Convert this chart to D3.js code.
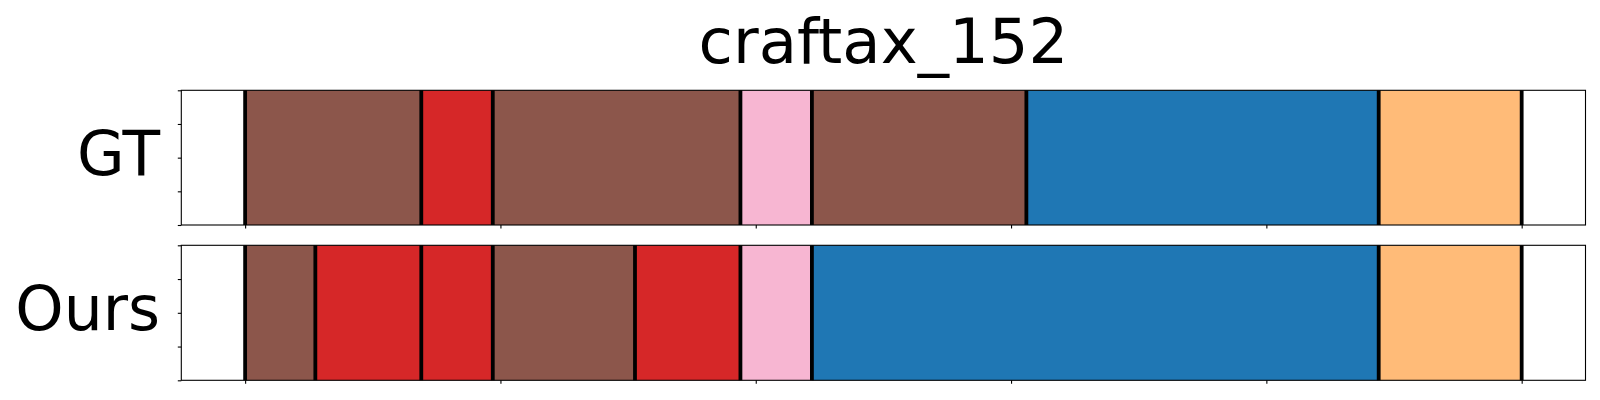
<!DOCTYPE html>
<html>
<head>
<meta charset="utf-8">
<script src="https://cdn.jsdelivr.net/npm/d3@7"></script>
<style>
  html, body { margin: 0; padding: 0; background: #fff; }
  svg { display: block; }
  text { font-family: "DejaVu Sans", sans-serif; }
</style>
</head>
<body>
<svg id="chart" width="1600" height="400"></svg>
<script>
// ---- data ----
const title = "craftax_152";
const rowNames = ["GT", "Ours"];
const classNames = ["c0", "c1", "c2", "c3", "c4"];
const classColors = ["#8c564b", "#d62728", "#f7b6d2", "#1f77b4", "#ffbb78"];
// segment boundaries (frame units) and class of each segment
const gtBounds = [0, 69, 97, 194, 222, 306, 444, 500];
const gtClasses = ["c0", "c1", "c0", "c2", "c0", "c3", "c4"];
const oursBounds = [0, 27.5, 69, 97, 152.7, 194, 222, 444, 500];
const oursClasses = ["c0", "c1", "c1", "c0", "c1", "c2", "c3", "c4"];
const xTicks = [0, 100, 200, 300, 400, 500];
const yTicks = [0, 0.25, 0.5, 0.75, 1];

// ---- layout ----
const svg = d3.select("#chart");
const left = 181.3, right = 1585.5;
const panels = [
  { name: rowNames[0], bounds: gtBounds, classes: gtClasses, top: 90.3, bottom: 225 },
  { name: rowNames[1], bounds: oursBounds, classes: oursClasses, top: 245.3, bottom: 380.3 }
];
const total = gtBounds[gtBounds.length - 1];
const x = d3.scaleLinear().domain([-total * 0.05, total * 1.05]).range([left, right]);
const color = d3.scaleOrdinal().domain(classNames).range(classColors);

svg.append("text")
  .attr("x", (left + right) / 2)
  .attr("y", 62.5)
  .attr("text-anchor", "middle")
  .attr("font-size", 62.5)
  .attr("fill", "#000")
  .text(title);

panels.forEach(p => {
  const y = d3.scaleLinear().domain([0, 1]).range([p.bottom, p.top]);
  const g = svg.append("g");
  const segs = p.classes.map((c, i) => ({ c, x0: p.bounds[i], x1: p.bounds[i + 1] }));
  g.selectAll("rect.seg").data(segs).enter().append("rect")
    .attr("class", "seg")
    .attr("x", d => x(d.x0))
    .attr("width", d => x(d.x1) - x(d.x0))
    .attr("y", y(1))
    .attr("height", y(0) - y(1))
    .attr("fill", d => color(d.c));
  g.selectAll("line.bnd").data(p.bounds).enter().append("line")
    .attr("class", "bnd")
    .attr("x1", d => x(d)).attr("x2", d => x(d))
    .attr("y1", y(1)).attr("y2", y(0))
    .attr("stroke", "#000")
    .attr("stroke-width", 3.8);
  // axes
  const xa = g.append("g").attr("transform", `translate(0,${p.bottom})`)
    .call(d3.axisBottom(x).tickValues(xTicks).tickFormat("").tickSize(3.5).tickSizeOuter(0));
  xa.select(".domain").remove();
  xa.selectAll("line").attr("stroke", "#000").attr("stroke-width", 1.1);
  const ya = g.append("g").attr("transform", `translate(${left},0)`)
    .call(d3.axisLeft(y).tickValues(yTicks).tickFormat("").tickSize(3.5).tickSizeOuter(0));
  ya.select(".domain").remove();
  ya.selectAll("line").attr("stroke", "#000").attr("stroke-width", 1.1);
  // frame
  g.append("rect")
    .attr("x", left).attr("y", p.top)
    .attr("width", right - left).attr("height", p.bottom - p.top)
    .attr("fill", "none").attr("stroke", "#000").attr("stroke-width", 1.1);
  // row label
  svg.append("text")
    .attr("x", 160)
    .attr("y", (p.top + p.bottom) / 2 + 17)
    .attr("text-anchor", "end")
    .attr("font-size", 61.5)
    .attr("fill", "#000")
    .text(p.name);
});
</script>
</body>
</html>
